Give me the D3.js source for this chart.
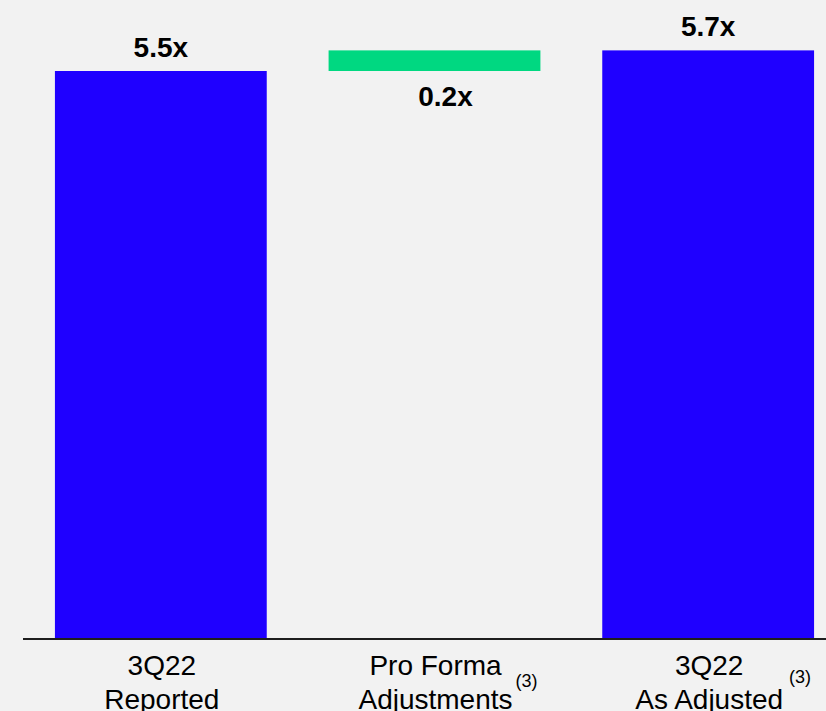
<!DOCTYPE html>
<html>
<head>
<meta charset="utf-8">
<script src="https://cdn.jsdelivr.net/npm/d3@7"></script>
<style>
  html, body { margin: 0; padding: 0; background: #f2f2f2; }
  svg { display: block; font-family: "Liberation Sans", Arial, sans-serif; }
</style>
</head>
<body>
<svg id="chart" width="826" height="711"></svg>
<script>
// Leverage bridge: reported -> pro forma adjustments -> as adjusted
const categories = ["3Q22 Reported", "Pro Forma Adjustments", "3Q22 As Adjusted"];
const labelLines = [["3Q22", "Reported"], ["Pro Forma", "Adjustments"], ["3Q22", "As Adjusted"]];
const footnotes = ["", "(3)", "(3)"];
const values = [5.5, 0.2, 5.7];
const kinds = ["total", "delta", "total"];
const valueLabels = ["5.5x", "0.2x", "5.7x"];

const W = 826, H = 711;
const baseY = 638;
const colors = { total: "#1f00ff", delta: "#00d881" };

const svg = d3.select("#chart");
svg.append("rect").attr("width", W).attr("height", H).attr("fill", "#f2f2f2");

const x = d3.scaleBand()
  .domain(categories)
  .range([24, 845])
  .paddingInner(0.226)
  .paddingOuter(0.113);

const y = d3.scaleLinear().domain([0, 5.5]).range([baseY, 71]);

// Build floating segments for the bridge
let running = 0;
const segs = categories.map((c, i) => {
  let lo, hi;
  if (kinds[i] === "total") { lo = 0; hi = values[i]; running = values[i]; }
  else { lo = running; hi = running + values[i]; running = hi; }
  return { c, i, lo, hi, kind: kinds[i] };
});

svg.selectAll("rect.bar").data(segs).enter().append("rect")
  .attr("class", "bar")
  .attr("x", d => x(d.c))
  .attr("width", x.bandwidth())
  .attr("y", d => y(d.hi))
  .attr("height", d => y(d.lo) - y(d.hi))
  .attr("fill", d => colors[d.kind]);

// Value labels: above totals, below the adjustment
svg.selectAll("text.val").data(segs).enter().append("text")
  .attr("class", "val")
  .attr("x", d => x(d.c) + x.bandwidth() / 2 + (d.kind === "delta" ? 11 : 0))
  .attr("y", d => d.kind === "delta" ? y(d.lo) + 35 : y(d.hi) - 14.5)
  .attr("text-anchor", "middle")
  .attr("font-size", 28)
  .attr("font-weight", "bold")
  .attr("fill", "#000")
  .text(d => valueLabels[d.i]);

// Baseline
svg.append("line")
  .attr("x1", 23).attr("x2", W)
  .attr("y1", baseY + 1).attr("y2", baseY + 1)
  .attr("stroke", "#1e1e1e").attr("stroke-width", 2);

// Category labels with footnote markers
const supDy = [0, 0, -4];
const cat = svg.selectAll("g.cat").data(categories).enter().append("g")
  .attr("class", "cat")
  .attr("transform", c => `translate(${x(c) + x.bandwidth() / 2 + 1},0)`);

cat.each(function (c, i) {
  const g = d3.select(this);
  const lines = labelLines[i];
  let lastWidth = 0;
  lines.forEach((ln, k) => {
    const t = g.append("text")
      .attr("x", 0)
      .attr("y", 675 + k * 34)
      .attr("text-anchor", "middle")
      .attr("font-size", 28)
      .attr("fill", "#000")
      .text(ln);
    if (k === lines.length - 1) lastWidth = t.node().getComputedTextLength();
  });
  if (footnotes[i]) {
    g.append("text")
      .attr("x", lastWidth / 2 + (i === 1 ? 3 : 6))
      .attr("y", 687 + supDy[i])
      .attr("font-size", 18)
      .attr("fill", "#000")
      .text(footnotes[i]);
  }
});
</script>
</body>
</html>
